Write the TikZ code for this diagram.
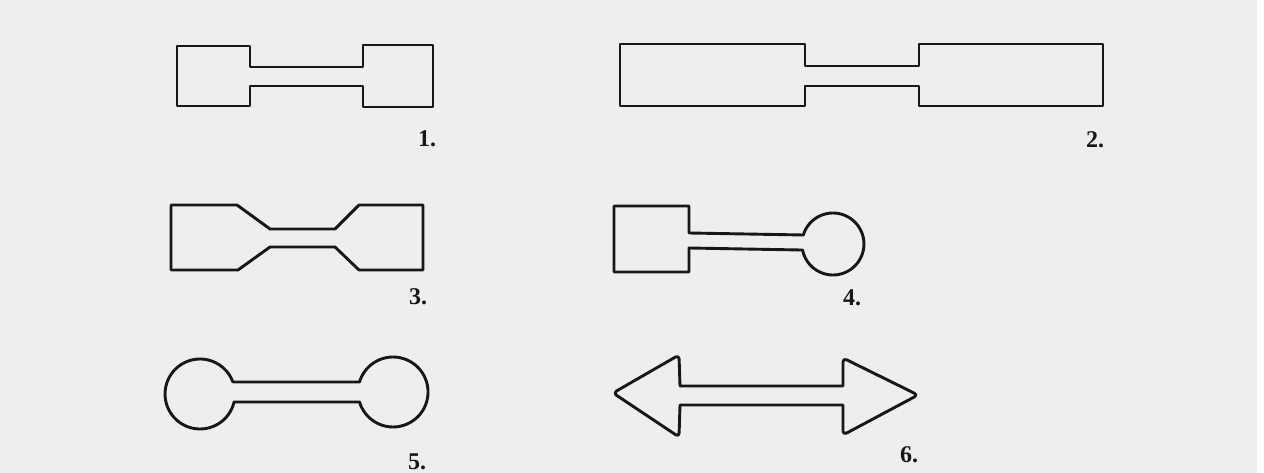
\documentclass[tikz,border=0pt]{standalone}
\usepackage{fontspec}
\setmainfont{Liberation Serif}
\definecolor{paper}{RGB}{238,238,236}
\definecolor{ink}{RGB}{25,22,22}
\begin{document}
\begin{tikzpicture}[x=1pt,y=1pt,
  outline/.style={draw=ink,line width=2.9pt,line join=round},
  numlabel/.style={font=\fontsize{24}{24}\selectfont\bfseries,text=ink,inner sep=0pt}]
\useasboundingbox (0,0) rectangle (1264,473);
\fill[paper] (0,0) rectangle (1264,473);
\fill[white] (1257,0) rectangle (1264,473);
% 1
\draw[outline] (177,427) -- (250,427) -- (250,406) -- (363,406) -- (363,428) -- (433,428) -- (433,366) -- (363,366) -- (363,387) -- (250,387) -- (250,367) -- (177,367) -- cycle;
% 2
\draw[outline] (620,429) -- (805,429) -- (805,407) -- (919,407) -- (919,429) -- (1103,429) -- (1103,367) -- (919,367) -- (919,387) -- (805,387) -- (805,367) -- (620,367) -- cycle;
% 3
\draw[outline] (171,268) -- (237,268) -- (270,244) -- (335,244) -- (359,268) -- (423,268) -- (423,203) -- (359,203) -- (335,226) -- (270,226) -- (238,203) -- (171,203) -- cycle;
% 4
\draw[outline] (614,267) -- (689,267) -- (689,240) -- (803.3,238) arc[start angle=163.1, end angle=-168.8, radius=31pt] -- (689,225) -- (689,201) -- (614,201) -- cycle;
% 5
\draw[outline] (232.9,91) -- (359.5,91) arc[start angle=163.4, end angle=-163.4, radius=35pt] -- (234.1,71) arc[start angle=-13.2, end angle=-339.95, radius=35pt] -- cycle;
% 6
\draw[outline] (680,87) [rounded corners=4pt] -- (679,118) -- (613,80) -- (679,36) [sharp corners] -- (680,68) -- (843,68) [rounded corners=4pt] -- (843,38) -- (918,78) -- (843,115) [sharp corners] -- (843,87) -- cycle;
% labels
\node[numlabel] (l1) at (427,334) {1.};
\node[numlabel] (l2) at (1095,333) {2.};
\node[numlabel] (l3) at (418,176) {3.};
\node[numlabel] (l4) at (852,175) {4.};
\node[numlabel] (l5) at (417,11) {5.};
\node[numlabel] (l6) at (909,18) {6.};
\end{tikzpicture}
\end{document}
